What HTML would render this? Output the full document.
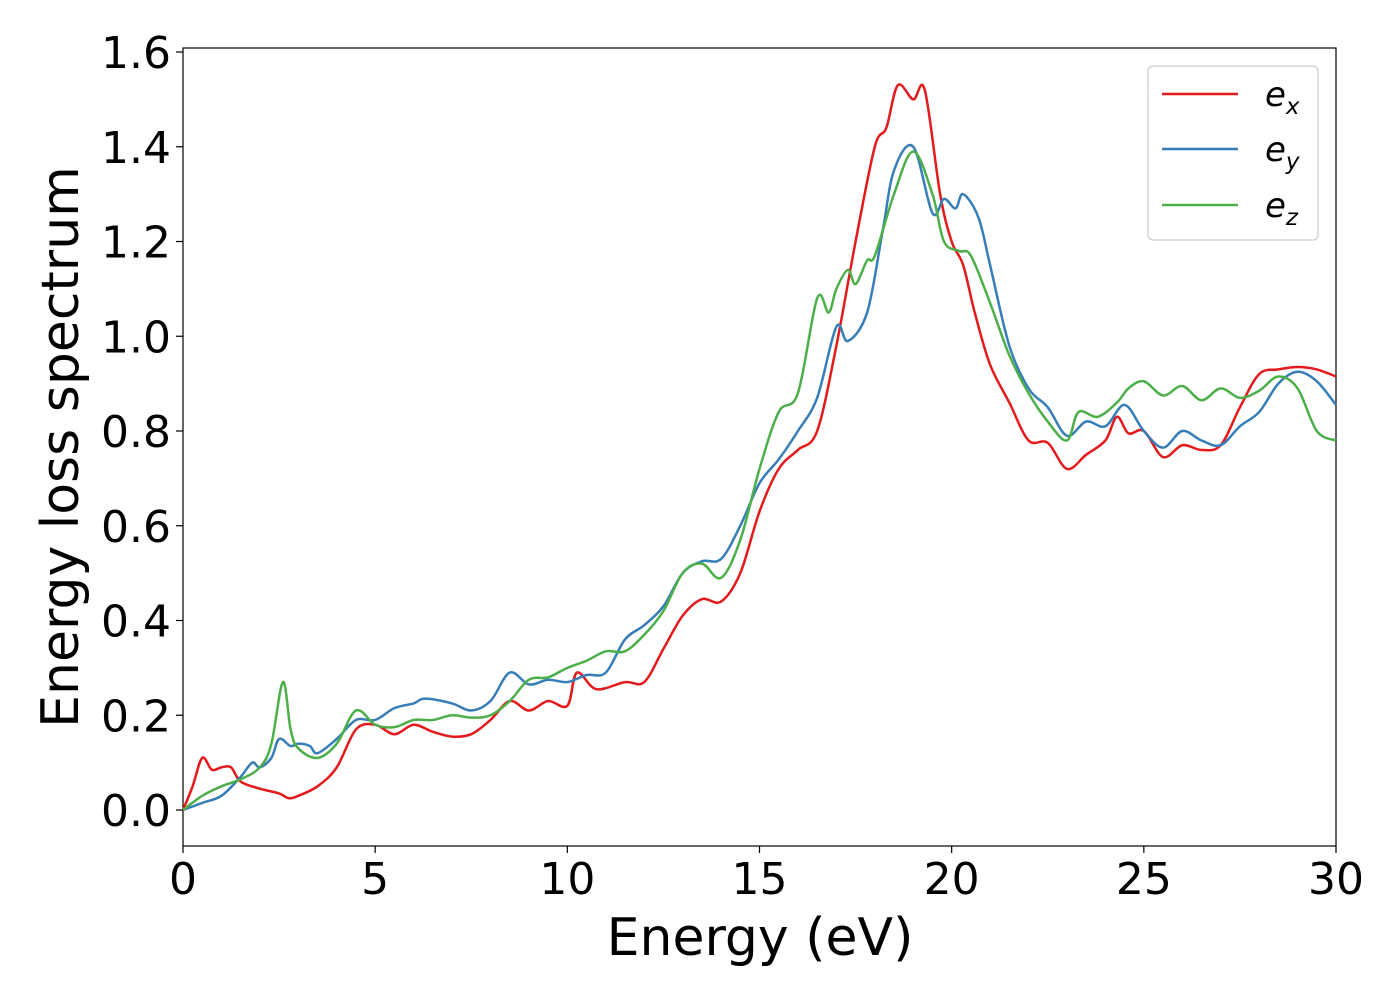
<!DOCTYPE html>
<html><head><meta charset="utf-8"><style>
body{margin:0;background:#fff;}
svg text{font-family:"DejaVu Sans","Liberation Sans",sans-serif;fill:#000;}
</style></head><body>
<svg id="chart" width="1400" height="1000">
<rect x="183" y="48" width="1153" height="798" fill="#fff" stroke="#000" stroke-width="1.2"/>
<g id="ticks"></g>
<g id="series"></g>
<text x="760" y="955" font-size="52" text-anchor="middle">Energy (eV)</text>
<text transform="translate(78,447) rotate(-90)" font-size="52" text-anchor="middle">Energy loss spectrum</text>
<g>
<rect x="1148" y="66" width="170" height="174" rx="5" fill="#fff" stroke="#ccc" stroke-width="1.2"/>
<line x1="1162" y1="94" x2="1238" y2="94" stroke="#e41a1c" stroke-width="2.5"/>
<text x="1265" y="106" font-size="34" font-style="italic">e<tspan font-size="23" dy="8">x</tspan></text>
<line x1="1162" y1="149" x2="1238" y2="149" stroke="#377eb8" stroke-width="2.5"/>
<text x="1265" y="161" font-size="34" font-style="italic">e<tspan font-size="23" dy="8">y</tspan></text>
<line x1="1162" y1="205" x2="1238" y2="205" stroke="#4daf4a" stroke-width="2.5"/>
<text x="1265" y="217" font-size="34" font-style="italic">e<tspan font-size="23" dy="8">z</tspan></text>
</g>
</svg>
<script>
const xTicks=[0,5,10,15,20,25,30];
const yTicks=[0.0,0.2,0.4,0.6,0.8,1.0,1.2,1.4,1.6];
const exX=[0,0.25,0.5,0.75,1,1.25,1.5,2,2.5,2.75,3,3.5,4,4.5,5,5.5,6,6.5,7,7.5,8,8.5,9,9.5,10,10.25,10.75,11.5,12,12.5,13,13.5,14,14.5,15,15.5,16,16.5,17,17.5,18,18.3,18.6,19,19.3,19.7,20,20.3,20.6,21,21.5,22,22.5,23,23.5,24,24.3,24.6,25,25.5,26,26.5,27,27.5,28,28.5,29,29.5,30];
const exY=[0,0.05,0.11,0.085,0.09,0.09,0.06,0.045,0.035,0.025,0.03,0.05,0.09,0.17,0.18,0.16,0.18,0.165,0.155,0.16,0.19,0.23,0.21,0.23,0.22,0.29,0.255,0.27,0.27,0.34,0.41,0.445,0.44,0.50,0.63,0.72,0.76,0.80,0.98,1.20,1.40,1.44,1.53,1.50,1.52,1.30,1.20,1.15,1.05,0.94,0.86,0.78,0.775,0.72,0.75,0.78,0.83,0.795,0.80,0.745,0.77,0.76,0.77,0.85,0.92,0.93,0.935,0.93,0.915];
const eyX=[0,0.5,1,1.5,1.8,2,2.3,2.5,2.8,3,3.3,3.5,4,4.5,5,5.5,6,6.3,7,7.5,8,8.5,9,9.5,10,10.5,11,11.5,12,12.5,13,13.5,14,14.5,15,15.5,16,16.5,17,17.3,17.8,18.2,18.5,19,19.5,19.8,20.1,20.3,20.7,21,21.5,22,22.5,23,23.5,24,24.5,25,25.5,26,26.5,27,27.5,28,28.5,29,29.5,30];
const eyY=[0,0.015,0.03,0.07,0.10,0.09,0.11,0.15,0.135,0.14,0.135,0.12,0.15,0.19,0.19,0.215,0.225,0.235,0.225,0.21,0.23,0.29,0.265,0.275,0.27,0.285,0.29,0.36,0.39,0.43,0.50,0.525,0.53,0.60,0.69,0.74,0.80,0.87,1.02,0.99,1.05,1.22,1.35,1.40,1.26,1.29,1.27,1.30,1.25,1.15,0.98,0.89,0.85,0.79,0.82,0.81,0.855,0.80,0.765,0.80,0.78,0.77,0.81,0.84,0.90,0.925,0.905,0.855];
const ezX=[0,0.5,1,1.5,2,2.3,2.6,2.8,3,3.5,4,4.5,5,5.5,6,6.5,7,7.5,8,8.5,9,9.5,10,10.5,11,11.5,12,12.5,13,13.5,14,14.5,15,15.5,16,16.5,16.8,17,17.3,17.5,17.8,18,18.5,19,19.5,19.8,20.2,20.5,21,21.5,22,22.5,23,23.3,23.8,24.3,24.6,25,25.5,26,26.5,27,27.5,28,28.5,29,29.5,30];
const ezY=[0,0.03,0.05,0.065,0.09,0.14,0.27,0.17,0.13,0.11,0.14,0.21,0.18,0.175,0.19,0.19,0.2,0.195,0.2,0.23,0.275,0.28,0.30,0.315,0.335,0.335,0.37,0.42,0.50,0.52,0.49,0.57,0.72,0.84,0.88,1.08,1.05,1.10,1.14,1.11,1.16,1.17,1.30,1.39,1.30,1.20,1.18,1.17,1.07,0.96,0.88,0.82,0.78,0.84,0.83,0.86,0.89,0.905,0.875,0.895,0.865,0.89,0.87,0.885,0.915,0.89,0.80,0.78];
const sx=v=>183+v*1153/30;
const sy=v=>810-v*473.75;
const NS='http://www.w3.org/2000/svg';
const tg=document.getElementById('ticks');
xTicks.forEach(t=>{
  const l=document.createElementNS(NS,'line');
  l.setAttribute('x1',sx(t));l.setAttribute('x2',sx(t));l.setAttribute('y1',846);l.setAttribute('y2',853);
  l.setAttribute('stroke','#000');l.setAttribute('stroke-width','1.2');
  
  
  tg.appendChild(l);
  const tx=document.createElementNS(NS,'text');
  tx.setAttribute('x',sx(t));tx.setAttribute('y',894);tx.setAttribute('font-size','44');tx.setAttribute('text-anchor','middle');
  tx.textContent=t;
  
  
  tg.appendChild(tx);
});
yTicks.forEach(t=>{
  const l=document.createElementNS(NS,'line');
  l.setAttribute('x1',176);l.setAttribute('x2',183);l.setAttribute('y1',sy(t));l.setAttribute('y2',sy(t));
  l.setAttribute('stroke','#000');l.setAttribute('stroke-width','1.2');
  
  
  tg.appendChild(l);
  const tx=document.createElementNS(NS,'text');
  tx.setAttribute('x',171);tx.setAttribute('y',sy(t)+16);tx.setAttribute('font-size','44');tx.setAttribute('text-anchor','end');
  tx.textContent=t.toFixed(1);
  
  
  tg.appendChild(tx);
});
function smoothPath(pts){
  let d='M'+pts[0][0]+','+pts[0][1];
  for(let i=0;i<pts.length-1;i++){
    const p0=pts[i-1]||pts[i],p1=pts[i],p2=pts[i+1],p3=pts[i+2]||p2;
    const c1x=p1[0]+(p2[0]-p0[0])/6,c1y=p1[1]+(p2[1]-p0[1])/6;
    const c2x=p2[0]-(p3[0]-p1[0])/6,c2y=p2[1]-(p3[1]-p1[1])/6;
    d+=' C'+c1x+','+c1y+' '+c2x+','+c2y+' '+p2[0]+','+p2[1];
  }
  return d;
}
const sg=document.getElementById('series');
[[exX,exY,'#e41a1c','series-ex'],[eyX,eyY,'#377eb8','series-ey'],[ezX,ezY,'#4daf4a','series-ez']].forEach(([xs,ys,c,n])=>{
  const p=document.createElementNS(NS,'path');
  p.setAttribute('d',smoothPath(xs.map((x,i)=>[sx(x),sy(ys[i])])));
  p.setAttribute('fill','none');p.setAttribute('stroke',c);p.setAttribute('stroke-width','2.5');p.setAttribute('stroke-linejoin','round');
  
  
  sg.appendChild(p);
});
</script>
</body></html>
